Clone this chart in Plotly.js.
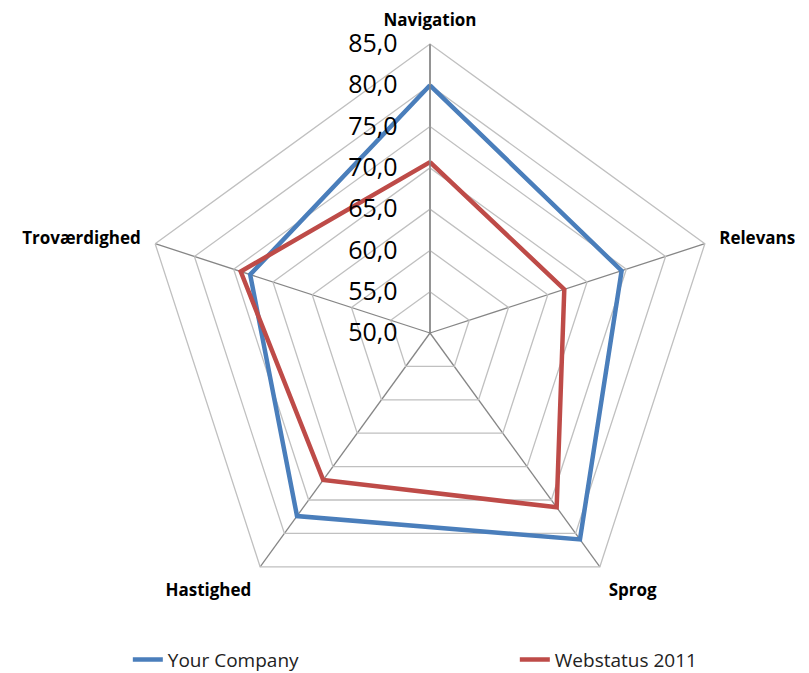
<!DOCTYPE html>
<html>
<head>
<meta charset="utf-8">
<script src="https://cdn.plot.ly/plotly-3.0.1.min.js"></script>
<style>html,body{margin:0;padding:0;background:#fff;}#chart{width:809px;height:673px;}</style>
</head>
<body>
<div id="chart"></div>
<script>
const categories = ["Navigation", "Relevans", "Sprog", "Hastighed", "Troværdighed"];
const yourCompany = [80.0, 74.4, 80.9, 77.4, 72.9];
const webstatus2011 = [70.7, 67.1, 76.1, 72.0, 74.1];
const radialTicks = [50, 55, 60, 65, 70, 75, 80, 85];
const radialTickText = ["50,0", "55,0", "60,0", "65,0", "70,0", "75,0", "80,0", "85,0"];

function closed(a) { return a.concat([a[0]]); }

const traces = [
  {type: "scatterpolar", mode: "lines", name: "Your Company",
   r: closed(yourCompany), theta: closed(categories),
   line: {color: "#4a7ebb", width: 4.5}},
  {type: "scatterpolar", mode: "lines", name: "Webstatus 2011",
   r: closed(webstatus2011), theta: closed(categories),
   line: {color: "#be4b48", width: 4.5}}
];

const layout = {
  width: 809, height: 673,
  margin: {l: 0, r: 0, t: 0, b: 0, autoexpand: false},
  paper_bgcolor: "#fff",
  showlegend: true,
  legend: {orientation: "h", x: 0.158, xanchor: "left", y: 0.02, yanchor: "middle",
           font: {family: "'Open Sans', sans-serif", size: 19, color: "#222"},
           entrywidth: 342},
  polar: {
    domain: {x: [141/809, 719/809], y: [51/673, 629/673]},
    gridshape: "linear",
    bgcolor: "#fff",
    angularaxis: {rotation: 90, direction: "clockwise",
      categoryorder: "array", categoryarray: categories,
      showline: true, linecolor: "#c0c0c0", linewidth: 1.3,
      gridcolor: "#868686", gridwidth: 1.3,
      ticks: "outside", ticklen: 11, tickcolor: "rgba(0,0,0,0)",
      tickfont: {family: "'Open Sans', sans-serif", size: 17, color: "#000", weight: "bold"}},
    radialaxis: {range: [50, 85], tickvals: radialTicks, ticktext: radialTickText,
      angle: 90, tickangle: 90, side: "counterclockwise",
      showline: true, linecolor: "#868686", linewidth: 1.3,
      gridcolor: "#c0c0c0", gridwidth: 1.3,
      ticks: "outside", ticklen: 23, tickcolor: "rgba(0,0,0,0)",
      tickfont: {family: "'Open Sans', sans-serif", size: 25, color: "#000"}}
  }
};

Plotly.newPlot("chart", traces, layout, {displayModeBar: false, staticPlot: true});
</script>
</body>
</html>
